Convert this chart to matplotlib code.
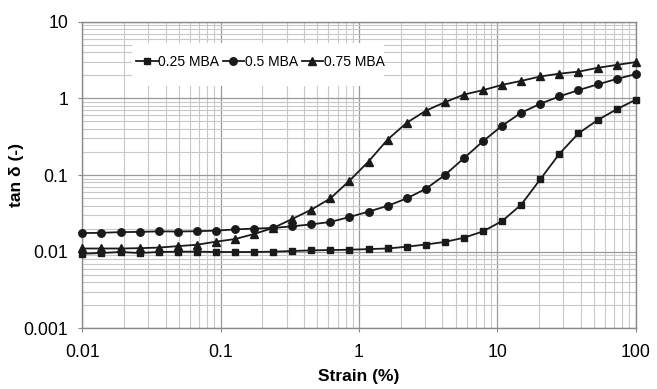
import matplotlib
matplotlib.use("Agg")
import matplotlib.pyplot as plt
from matplotlib.patches import Rectangle
from matplotlib.ticker import LogLocator, FixedLocator, FixedFormatter, NullFormatter

plt.rcParams['font.family'] = ['Liberation Sans', 'DejaVu Sans']

strain = [0.01, 0.01374, 0.01888, 0.02593, 0.03562, 0.04894, 0.06723, 0.09237,
          0.1269, 0.1743, 0.2395, 0.329, 0.452, 0.621, 0.853, 1.172, 1.610,
          2.212, 3.039, 4.175, 5.736, 7.880, 10.83, 14.87, 20.43, 28.07, 38.57,
          52.98, 72.79, 100.0]

tan_025 = [0.0094, 0.0096, 0.0099, 0.0096, 0.0099, 0.0100, 0.0100, 0.0099,
           0.0099, 0.0099, 0.0100, 0.0102, 0.0104, 0.0105, 0.0106, 0.0108,
           0.0110, 0.0116, 0.0124, 0.0134, 0.0152, 0.0184, 0.0251, 0.041,
           0.088, 0.189, 0.35, 0.52, 0.72, 0.96]

tan_05 = [0.0175, 0.0176, 0.0180, 0.0181, 0.0184, 0.0183, 0.0185, 0.0188,
          0.0195, 0.0200, 0.0204, 0.0214, 0.0227, 0.0244, 0.0283, 0.0333,
          0.0396, 0.0495, 0.066, 0.100, 0.166, 0.276, 0.44, 0.65, 0.85, 1.06,
          1.28, 1.52, 1.79, 2.07]

tan_075 = [0.0110, 0.0110, 0.0110, 0.0111, 0.0113, 0.0118, 0.0123, 0.0135,
           0.0146, 0.0170, 0.0204, 0.0267, 0.0353, 0.0495, 0.0843, 0.150,
           0.290, 0.48, 0.69, 0.89, 1.12, 1.28, 1.50, 1.69, 1.93, 2.10, 2.23,
           2.50, 2.73, 2.97]

labels = ["0.25 MBA", "0.5 MBA", "0.75 MBA"]
x_ticks = [0.01, 0.1, 1, 10, 100]
x_ticklabels = ["0.01", "0.1", "1", "10", "100"]
y_ticks = [0.001, 0.01, 0.1, 1, 10]
y_ticklabels = ["0.001", "0.01", "0.1", "1", "10"]

fig = plt.figure(figsize=(6.57, 3.89), dpi=100)
ax = fig.add_axes([0.1253, 0.156, 0.8423, 0.7882])
ax.set_xscale('log')
ax.set_yscale('log')
ax.set_xlim(0.01, 100)
ax.set_ylim(0.001, 10)

ax.xaxis.set_major_locator(FixedLocator(x_ticks))
ax.xaxis.set_major_formatter(FixedFormatter(x_ticklabels))
ax.yaxis.set_major_locator(FixedLocator(y_ticks))
ax.yaxis.set_major_formatter(FixedFormatter(y_ticklabels))
ax.xaxis.set_minor_locator(LogLocator(base=10, subs=range(2, 10)))
ax.yaxis.set_minor_locator(LogLocator(base=10, subs=range(2, 10)))
ax.xaxis.set_minor_formatter(NullFormatter())
ax.yaxis.set_minor_formatter(NullFormatter())

ax.grid(True, which='major', color='#9a9a9a', linewidth=0.9, zorder=0)
ax.grid(True, which='minor', color='#c8c8c8', linewidth=0.8, zorder=0)
ax.set_axisbelow(True)
for s in ax.spines.values():
    s.set_color('#8a8a8a')
    s.set_linewidth(1.0)
ax.tick_params(which='minor', length=0)
ax.tick_params(which='major', length=3, width=0.8, color='#8a8a8a',
               labelsize=12.7, direction='out')
ax.tick_params(axis='x', which='major', pad=8)
ax.tick_params(axis='y', which='major', pad=7)

style = dict(color='#1a1a1a', linewidth=1.3, clip_on=False, zorder=3)
ax.plot(strain, tan_025, marker='s', markersize=5, label=labels[0], **style)
ax.plot(strain, tan_05, marker='o', markersize=5.4, label=labels[1], **style)
ax.plot(strain, tan_075, marker='^', markersize=6.2, label=labels[2], **style)

ax.set_xlabel("Strain (%)", fontsize=12.5, fontweight='bold', labelpad=6)
ax.set_ylabel("tan δ (-)", fontsize=12.5, fontweight='bold', va='center')
ax.yaxis.set_label_coords(-0.1198, 0.5)

ax.add_patch(Rectangle((0.0898, 0.790), 0.455, 0.1402, transform=ax.transAxes,
                       facecolor='white', edgecolor='none', zorder=2))
leg = ax.legend(loc='center left', bbox_to_anchor=(0.097, 0.8686), ncol=3,
                frameon=False, fontsize=10, handlelength=1.55,
                handletextpad=0.05, columnspacing=0.25, borderpad=0,
                borderaxespad=0)
leg.set_zorder(4)

fig.savefig("out.png", dpi=100)
